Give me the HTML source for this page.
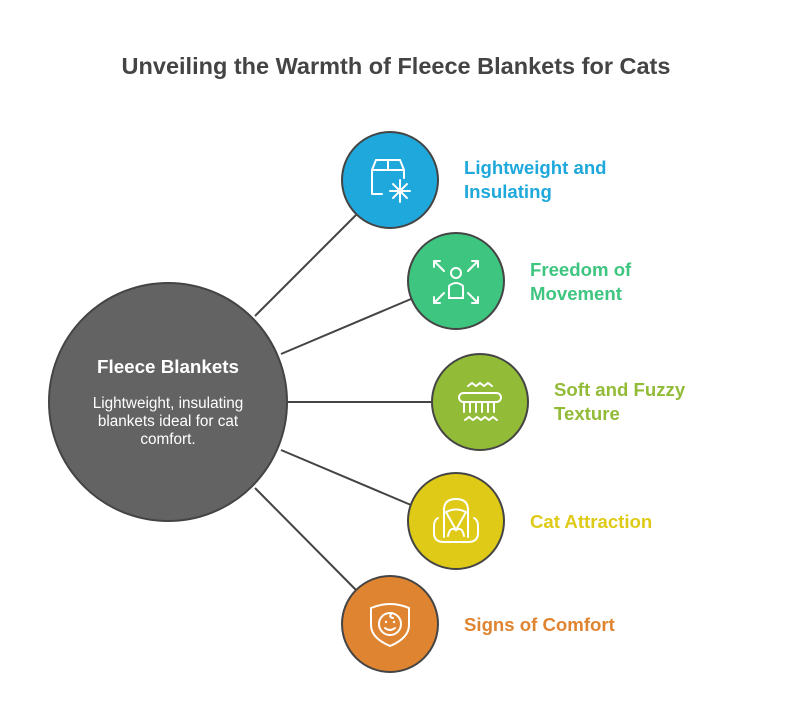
<!DOCTYPE html>
<html><head><meta charset="utf-8"><style>
body{margin:0;background:#fff;}
svg text{font-family:"Liberation Sans",sans-serif;}
</style></head><body>
<svg width="792" height="699" viewBox="0 0 792 699" xmlns="http://www.w3.org/2000/svg">
<rect width="792" height="699" fill="#fff"/>
<text x="396" y="74" text-anchor="middle" font-size="23.5" font-weight="bold" fill="#444">Unveiling the Warmth of Fleece Blankets for Cats</text>
<g stroke="#444" stroke-width="2">
<line x1="255" y1="316" x2="356" y2="215"/>
<line x1="281" y1="354" x2="411" y2="299"/>
<line x1="288" y1="402" x2="432" y2="402"/>
<line x1="281" y1="450" x2="411" y2="505"/>
<line x1="255" y1="488" x2="356" y2="590"/>
</g>
<circle cx="168" cy="402" r="119" fill="#636363" stroke="#444" stroke-width="2"/>
<text x="168" y="373" text-anchor="middle" font-size="18.8" font-weight="bold" fill="#fff">Fleece Blankets</text>
<g font-size="15.3" fill="#fff" text-anchor="middle">
<text x="168" y="408">Lightweight, insulating</text>
<text x="168" y="426">blankets ideal for cat</text>
<text x="168" y="444">comfort.</text>
</g>
<g stroke="#444" stroke-width="2">
<circle cx="390" cy="180" r="48" fill="#1fa8db"/>
<circle cx="456" cy="281" r="48" fill="#3ec57f"/>
<circle cx="480" cy="402" r="48" fill="#92bb38"/>
<circle cx="456" cy="521" r="48" fill="#dfcb17"/>
<circle cx="390" cy="624" r="48" fill="#df8430"/>
</g>
<g stroke="#fff" stroke-width="2" fill="none" stroke-linecap="round">
<path d="M372 194 V170 L376 160 H400 L404 170 V178 M372 170 H404 M388 160 V170 M372 194 H382"/>
<path d="M400 180 V202 M390 191 H410 M393 184 L407 198 M407 184 L393 198"/>
<circle cx="456" cy="273" r="5"/>
<path d="M449 298 V286 Q456 280 463 286 V298 Z"/>
<path d="M434 261 L444 271 M434 261 H440 M434 261 V267 M478 261 L468 271 M478 261 H472 M478 261 V267 M434 303 L444 293 M434 303 H440 M434 303 V297 M478 303 L468 293 M478 303 H472 M478 303 V297"/>
<path d="M468 386 l4 -3 l4 3 l4 -3 l4 3 l4 -3 l4 3"/>
<rect x="459" y="393" width="42" height="9" rx="4.5"/>
<path d="M464 402 v10 M470 402 v10 M476 402 v10 M482 402 v10 M488 402 v10 M494 402 v10"/>
<path d="M465 420 l4 -3 l4 3 l4 -3 l4 3 l4 -3 l4 3 l4 -3 l4 3"/>
<path d="M444 537 V510 Q444 499 456 499 Q468 499 468 510 V537"/>
<path d="M438 518 Q434 520 434 526 V533 Q434 542 444 542 H468 Q478 542 478 533 V526 Q478 520 474 518"/>
<path d="M446 512 L456 530 L466 512 M446 512 Q456 507 466 512 M448 536 Q450 526 456 530 Q462 526 464 536"/>
<path d="M371 608 Q390 600 409 608 V625 Q409 638 390 646 Q371 638 371 625 Z"/>
<circle cx="390" cy="624" r="11"/>
<path d="M385 628 Q390 632 395 628 M392 613 Q388 617 393 618"/>
</g>
<circle cx="386" cy="622" r="1.2" fill="#fff"/><circle cx="394" cy="622" r="1.2" fill="#fff"/>
<g font-size="18.6" font-weight="bold">
<text x="464" y="174" fill="#1fa8db">Lightweight and</text>
<text x="464" y="198" fill="#1fa8db">Insulating</text>
<text x="530" y="276" fill="#3ec57f">Freedom of</text>
<text x="530" y="300" fill="#3ec57f">Movement</text>
<text x="554" y="396" fill="#92bb38">Soft and Fuzzy</text>
<text x="554" y="420" fill="#92bb38">Texture</text>
<text x="530" y="528" fill="#dfcb17">Cat Attraction</text>
<text x="464" y="631" fill="#df8430">Signs of Comfort</text>
</g>
</svg>
</body></html>
